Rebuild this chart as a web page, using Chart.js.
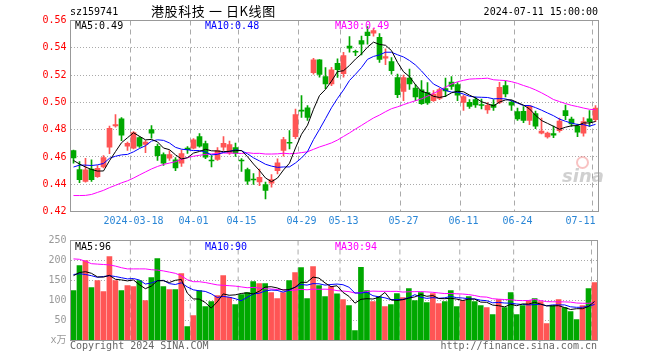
<!DOCTYPE html>
<html><head><meta charset="utf-8">
<script src="https://cdn.jsdelivr.net/npm/chart.js@4.4.1/dist/chart.umd.min.js"></script>
<style>
body{margin:0;background:#fff;width:660px;height:360px;overflow:hidden;position:relative;font-family:"DejaVu Sans Mono","Noto Sans CJK SC",monospace;}
.t{position:absolute;font-size:10px;line-height:12px;white-space:pre;}
canvas{position:absolute;left:0;}
#c1{top:0;}
#c2{top:230px;}
</style></head><body>
<canvas id="c1" width="660" height="230"></canvas>
<canvas id="c2" width="660" height="130"></canvas>
<div class="t" style="left:70px;top:6px;color:#000">sz159741</div>
<div class="t" style="left:151px;top:3px;font-family:'Noto Sans CJK SC';font-size:13px;line-height:16px;letter-spacing:0.6px;color:#000">港股科技&nbsp;一&nbsp;日K线图</div>
<div class="t" style="right:62px;top:6px;color:#000">2024-07-11 15:00:00</div>
<div class="t" style="left:75px;top:20px;color:#000">MA5:0.49</div>
<div class="t" style="left:205px;top:20px;color:#0000ff">MA10:0.48</div>
<div class="t" style="left:335px;top:20px;color:#ff00ff">MA30:0.49</div>
<div class="t" style="left:75px;top:241px;color:#000">MA5:96</div>
<div class="t" style="left:205px;top:241px;color:#0000ff">MA10:90</div>
<div class="t" style="left:335px;top:241px;color:#ff00ff">MA30:94</div>
<div class="t" style="left:70px;top:340px;color:#666">Copyright 2024 SINA.COM</div>
<div class="t" style="right:63px;top:340px;color:#666">http://finance.sina.com.cn</div>
<div style="position:absolute;left:576px;top:156px;width:9px;height:9px;border:2px solid rgba(240,120,120,0.45);border-radius:50%"></div>
<div class="t" style="left:562px;top:166px;font-family:'DejaVu Sans';font-style:italic;font-weight:bold;font-size:18px;line-height:20px;color:rgba(150,150,150,0.45)">sina</div>
<script>
const dates = [
'2024-03-04','2024-03-05','2024-03-06','2024-03-07','2024-03-08','2024-03-11','2024-03-12','2024-03-13','2024-03-14','2024-03-15',
'2024-03-18','2024-03-19','2024-03-20','2024-03-21','2024-03-22','2024-03-25','2024-03-26','2024-03-27','2024-03-28','2024-03-29',
'2024-04-01','2024-04-02','2024-04-03','2024-04-08','2024-04-09','2024-04-10','2024-04-11','2024-04-12','2024-04-15','2024-04-16',
'2024-04-17','2024-04-18','2024-04-19','2024-04-22','2024-04-23','2024-04-24','2024-04-25','2024-04-26','2024-04-29','2024-04-30',
'2024-05-06','2024-05-07','2024-05-08','2024-05-09','2024-05-10','2024-05-13','2024-05-14','2024-05-15','2024-05-16','2024-05-17',
'2024-05-20','2024-05-21','2024-05-22','2024-05-23','2024-05-24','2024-05-27','2024-05-28','2024-05-29','2024-05-30','2024-05-31',
'2024-06-03','2024-06-04','2024-06-05','2024-06-06','2024-06-07','2024-06-11','2024-06-12','2024-06-13','2024-06-14','2024-06-17',
'2024-06-18','2024-06-19','2024-06-20','2024-06-21','2024-06-24','2024-06-25','2024-06-26','2024-06-27','2024-06-28','2024-07-01',
'2024-07-02','2024-07-03','2024-07-04','2024-07-05','2024-07-08','2024-07-09','2024-07-10','2024-07-11'];

const tickDates  = ['2024-03-18','2024-04-01','2024-04-15','2024-04-29','2024-05-13','2024-05-27','2024-06-11','2024-06-24','2024-07-11'];
const tickLabels = ['2024-03-18','04-01','04-15','04-29','05-13','05-27','06-11','06-24','07-11'];

const openP = [0.4647,0.4508,0.4420,0.4511,0.4456,0.4526,0.4671,0.4828,0.4879,0.4678,
0.4664,0.4742,0.4691,0.4801,0.4678,0.4618,0.4590,0.4579,0.4555,0.4665,
0.4664,0.4749,0.4698,0.4577,0.4581,0.4671,0.4629,0.4669,0.4577,0.4508,
0.4438,0.4416,0.4398,0.4407,0.4500,0.4647,0.4707,0.4749,0.4944,0.4960,
0.5218,0.5311,0.5189,0.5135,0.5286,0.5211,0.5412,0.5374,0.5453,0.5515,
0.5508,0.5477,0.5324,0.5299,0.5182,0.5081,0.5178,0.5105,0.5092,0.5072,
0.5013,0.5028,0.5101,0.5149,0.5130,0.4999,0.5001,0.5020,0.4984,0.4945,
0.4984,0.4999,0.5123,0.5002,0.4933,0.4935,0.4867,0.4918,0.4775,0.4746,
0.4771,0.4793,0.4940,0.4878,0.4826,0.4774,0.4879,0.4874];
const highP = [0.4650,0.4566,0.4590,0.4579,0.4537,0.4610,0.4826,0.4911,0.4889,0.4709,
0.4786,0.4749,0.4720,0.4830,0.4694,0.4630,0.4647,0.4596,0.4651,0.4676,
0.4735,0.4771,0.4716,0.4610,0.4669,0.4749,0.4716,0.4702,0.4588,0.4519,
0.4478,0.4511,0.4415,0.4471,0.4586,0.4744,0.4793,0.4951,0.5050,0.4977,
0.5323,0.5314,0.5255,0.5257,0.5319,0.5367,0.5482,0.5383,0.5486,0.5555,
0.5540,0.5504,0.5392,0.5328,0.5207,0.5200,0.5244,0.5130,0.5160,0.5145,
0.5086,0.5105,0.5178,0.5189,0.5145,0.5053,0.5020,0.5038,0.5024,0.4999,
0.5020,0.5147,0.5156,0.5013,0.4958,0.4969,0.4977,0.4936,0.4885,0.4782,
0.4826,0.4885,0.4980,0.4892,0.4841,0.4889,0.4940,0.4977];
const lowP = [0.4554,0.4412,0.4415,0.4420,0.4449,0.4519,0.4623,0.4818,0.4720,0.4647,
0.4658,0.4669,0.4632,0.4738,0.4574,0.4537,0.4574,0.4500,0.4530,0.4625,
0.4658,0.4672,0.4588,0.4526,0.4574,0.4647,0.4618,0.4603,0.4493,0.4398,
0.4398,0.4390,0.4293,0.4378,0.4476,0.4605,0.4658,0.4733,0.4889,0.4867,
0.5207,0.5184,0.5101,0.5123,0.5182,0.5184,0.5368,0.5343,0.5347,0.5427,
0.5486,0.5292,0.5277,0.5207,0.5035,0.5013,0.5094,0.5013,0.4984,0.4984,
0.5006,0.5020,0.5042,0.5094,0.5013,0.4940,0.4955,0.4962,0.4951,0.4918,
0.4940,0.4991,0.5039,0.4940,0.4867,0.4852,0.4837,0.4808,0.4768,0.4738,
0.4742,0.4782,0.4874,0.4823,0.4749,0.4753,0.4823,0.4859];
const closeP = [0.4592,0.4434,0.4505,0.4434,0.4517,0.4596,0.4810,0.4838,0.4760,0.4700,
0.4779,0.4678,0.4709,0.4775,0.4610,0.4554,0.4618,0.4519,0.4625,0.4654,
0.4725,0.4678,0.4598,0.4570,0.4647,0.4700,0.4691,0.4625,0.4570,0.4423,
0.4431,0.4451,0.4354,0.4434,0.4557,0.4727,0.4700,0.4911,0.4936,0.4889,
0.5311,0.5204,0.5135,0.5238,0.5240,0.5343,0.5398,0.5367,0.5427,0.5489,
0.5526,0.5314,0.5335,0.5233,0.5057,0.5182,0.5135,0.5039,0.4991,0.4995,
0.5061,0.5094,0.5083,0.5116,0.5053,0.5042,0.4971,0.4981,0.4977,0.4979,
0.4962,0.5111,0.5061,0.4980,0.4879,0.4867,0.4973,0.4826,0.4790,0.4774,
0.4760,0.4862,0.4903,0.4842,0.4781,0.4859,0.4859,0.4958];
const volume = [125,187.5,200,132.5,150,122.5,210,150,125,137.5,
135,150,100,157.5,205,135,127.5,127.5,167.5,35,
62.5,125,85,97.5,112.5,162.5,108,90,115,120,
147.5,142.5,142.5,120,105,120,150,170,182.5,105,
185,137.5,110,135,116.7,102.5,87.5,25,183,125,
97.5,110,85,90,117.5,107.5,130,100,120,95,
117.5,92.5,97.5,125,85,100,110,97.5,87.5,82.5,
65,102.5,82.5,120,65,87.5,100,105,97.5,42.5,
87.5,102.5,82.5,72.5,52.5,87.5,130,145];

// moving-average values for the first days (window reaches before the visible range)
const priceMa5Lead  = [0.4574,0.4548,0.4526,0.4508];
const priceMa10Lead = [0.4526,0.4540,0.4540,0.4537,0.4542,0.4552,0.4590,0.4605,0.4615];
const priceMa30Lead = [0.4317,0.4317,0.4318,0.4325,0.4340,0.4355,0.4375,0.4392,0.4410,0.4425,
0.4445,0.4468,0.4490,0.4512,0.4530,0.4545,0.4555,0.4565,0.4582,0.4595,
0.4605,0.4612,0.4618,0.4622,0.4625,0.4628,0.4628,0.4627,0.4625];
const volMa5Lead  = [162,170,172,168];
const volMa10Lead = [165,167,165,162,158,160,162,160,157];
const volMa30Lead = [204,203,198,192,191,190,189,186,182,179,179,179,179,177,176,174,171,168,162,152,147,147,145,142,139,138,137,136,134];

const priceTicks = [0.42,0.44,0.46,0.48,0.50,0.52,0.54,0.56];
const volTicks = [0,50,100,150,200,250];

const RED = '#ff5555', GREEN = '#00a800';
const FONT = {family:"'DejaVu Sans Mono','Noto Sans CJK SC',monospace", size:10};

function movAvg(src, n, lead){
  return src.map((_, i) => {
    if (i < n - 1) return lead[i];
    let s = 0; for (let k = i - n + 1; k <= i; k++) s += src[k];
    return s / n;
  });
}
const colors = dates.map((d, i) => closeP[i] >= openP[i] ? RED : GREEN);

// frame + dashed date gridlines, positioned through the x scale
const frame = { id:'frame',
  beforeDatasetsDraw(c){
    const a = c.chartArea, x = c.ctx, s = c.scales.x;
    const slot = s.getPixelForValue(1) - s.getPixelForValue(0);
    x.save(); x.strokeStyle = '#aaa'; x.lineWidth = 1; x.setLineDash([5,4]);
    tickDates.forEach(d => {
      const px = s.getPixelForValue(dates.indexOf(d)) - slot / 2;
      x.beginPath(); x.moveTo(px, a.top); x.lineTo(px, a.bottom); x.stroke();
    });
    x.restore();
  },
  afterDraw(c){
    const a = c.chartArea, x = c.ctx; x.save();
    x.strokeStyle = '#999'; x.lineWidth = 1; x.setLineDash([]);
    x.strokeRect(a.left, a.top, a.right - a.left, a.bottom - a.top); x.restore(); } };

function lineDs(data, color){
  return {type:'line', data, borderColor:color, borderWidth:1, pointRadius:0, tension:0, fill:false, order:0};
}
function xScale(showLabels, h){
  return {
    offset:true,
    grid:{ display:false, drawTicks:false, tickLength:0 },
    border:{ display:false },
    ticks:{ display:showLabels, autoSkip:false, maxRotation:0, minRotation:0, padding:4, color:'#2a86d6', font:FONT,
      callback:(v, i) => {
        const k = tickDates.indexOf(dates[i]);
        if (k < 0) return '';
        return i === dates.length - 1 ? tickLabels[k] + '     ' : tickLabels[k];
      } },
    afterFit: s => { s.height = h; }
  };
}

new Chart(document.getElementById('c1'), {
  type:'bar',
  data:{ labels:dates, datasets:[
    lineDs(movAvg(closeP, 5, priceMa5Lead), '#000000'),
    lineDs(movAvg(closeP, 10, priceMa10Lead), '#0000ff'),
    lineDs(movAvg(closeP, 30, priceMa30Lead), '#ff00ff'),
    {type:'bar', data:dates.map((d,i)=>[openP[i], closeP[i]]), backgroundColor:colors, barThickness:5, grouped:false, minBarLength:1, order:1},
    {type:'bar', data:dates.map((d,i)=>[lowP[i], highP[i]]), backgroundColor:colors, barThickness:1, grouped:false, order:2}
  ]},
  options:{
    responsive:false, animation:false, devicePixelRatio:1,
    layout:{ padding:{left:0.5, right:61.5, top:20.5, bottom:0} },
    plugins:{ legend:{display:false}, tooltip:{enabled:false} },
    scales:{
      x: xScale(true, 18.5),
      y: { min:0.42, max:0.56,
        afterBuildTicks: s => { s.ticks = priceTicks.map(v => ({value:v})); },
        grid:{ drawTicks:false, color:'#aaa', lineWidth:1 },
        border:{ display:false, dash:[1,2] },
        ticks:{ color:'#ff0000', font:FONT, padding:4, callback: v => Number(v).toFixed(2) },
        afterFit: s => { s.width = 70; } }
    }
  },
  plugins:[frame]
});

new Chart(document.getElementById('c2'), {
  type:'bar',
  data:{ labels:dates, datasets:[
    lineDs(movAvg(volume, 5, volMa5Lead), '#000000'),
    lineDs(movAvg(volume, 10, volMa10Lead), '#0000ff'),
    lineDs(movAvg(volume, 30, volMa30Lead), '#ff00ff'),
    {type:'bar', data:volume, backgroundColor:colors, barThickness:5, grouped:false, order:1}
  ]},
  options:{
    responsive:false, animation:false, devicePixelRatio:1,
    layout:{ padding:{left:0.5, right:62.5, top:10.5, bottom:0} },
    plugins:{ legend:{display:false}, tooltip:{enabled:false} },
    scales:{
      x: xScale(false, 19.5),
      y: { min:0, max:250,
        afterBuildTicks: s => { s.ticks = volTicks.map(v => ({value:v})); },
        grid:{ drawTicks:false, color:'#aaa', lineWidth:1 },
        border:{ display:false, dash:[1,2] },
        ticks:{ color:'#999', font:FONT, padding:4, callback: v => v === 0 ? 'x万' : String(v) },
        afterFit: s => { s.width = 70; } }
    }
  },
  plugins:[frame]
});
</script>
</body></html>
